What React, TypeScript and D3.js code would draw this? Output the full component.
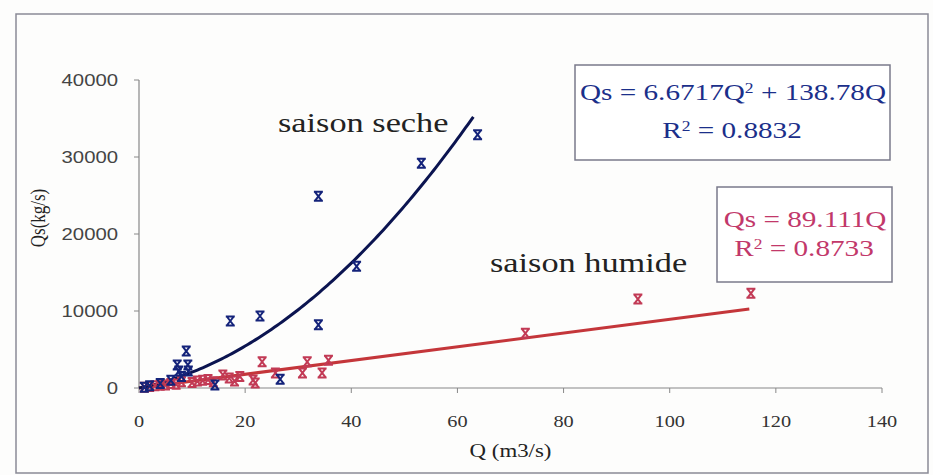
import React from "react";
import * as d3 from "d3";

const W = 933;
const H = 475;

// saison seche (dry season) observations [Q m3/s, Qs kg/s]
const secheQ = [63.8, 53.2, 33.8, 41, 22.8, 17.2, 33.8, 8.9, 7.2, 9.2, 7.5, 9.3, 8, 6, 4, 2, 1, 26.6, 14.3];
const secheQs = [32900, 29200, 24900, 15800, 9350, 8700, 8200, 4800, 3000, 3000, 2200, 2200, 1500, 1000, 600, 300, 100, 1150, 400];

// saison humide (wet season) observations
const humideQ = [115.3, 94, 72.8, 23.2, 31.7, 35.7, 30.8, 34.5, 25.7, 21.5, 15.8, 21.9, 1, 2, 3, 4, 5, 6, 7, 8, 10, 11, 12, 13, 14, 17, 18, 19];
const humideQs = [12300, 11550, 7100, 3400, 3400, 3600, 1950, 1950, 1950, 1050, 1700, 650, 100, 200, 300, 350, 400, 600, 500, 800, 700, 900, 1000, 1100, 800, 1300, 900, 1500];

// regression coefficients as shown in chart
const secheA = 6.6717;
const secheB = 138.78;
const secheMaxQ = 63;
const humideB = 89.111;
const humideMaxQ = 115;

const xTicks = [0, 20, 40, 60, 80, 100, 120, 140];
const yTicks = [0, 10000, 20000, 30000, 40000];

const BLUE = "#1b2f8a";
const BLUE_MARK = "#14237a";
const BLUE_LINE = "#0b1450";
const RED = "#c2386a";
const RED_MARK = "#c23a55";
const RED_LINE = "#c4363a";

const SERIF = "'Liberation Serif', 'Times New Roman', 'DejaVu Serif', serif";
const SANS = "'Liberation Sans', Arial, 'DejaVu Sans', sans-serif";
const SX = 1.27;

function T({
  x,
  y,
  size,
  fill = "#222",
  family = SERIF,
  anchor = "start",
  sx = SX,
  children,
}: {
  x: number;
  y: number;
  size: number;
  fill?: string;
  family?: string;
  anchor?: string;
  sx?: number;
  children: React.ReactNode;
}) {
  return (
    <text
      transform={`translate(${x},${y}) scale(${sx},1)`}
      textAnchor={anchor as any}
      style={{ fontFamily: family, fontSize: size }}
      fill={fill}
    >
      {children}
    </text>
  );
}

function Marker({ x, y, color }: { x: number; y: number; color: string }) {
  const s = 4.5;
  const d = `M${x - s},${y - s}L${x + s},${y - s}M${x - s},${y + s}L${x + s},${y + s}M${x - s + 1},${y - s}L${x + s - 1},${y + s}M${x + s - 1},${y - s}L${x - s + 1},${y + s}`;
  return <path d={d} stroke={color} strokeWidth={2} fill="none" />;
}

function Sup({ children }: { children: React.ReactNode }) {
  return (
    <tspan baselineShift="super" style={{ fontSize: "60%" }}>
      {children}
    </tspan>
  );
}

export default function App() {
  const x = d3.scaleLinear().domain([0, 140]).range([139, 882]);
  const y = d3.scaleLinear().domain([0, 40000]).range([388, 80]);

  const secheCurveQ = d3.range(0, secheMaxQ + 0.01, 0.5);
  const humideLineQ = [0, humideMaxQ];
  const line = d3
    .line<[number, number]>()
    .x((d) => x(d[0]))
    .y((d) => y(d[1]));
  const secheCurve = line(secheCurveQ.map((q) => [q, secheA * q * q + secheB * q] as [number, number]));
  const humideLine = line(humideLineQ.map((q) => [q, humideB * q] as [number, number]));

  return (
    <svg width={W} height={H} style={{ position: "absolute", left: 0, top: 0, background: "#fff" }}>
      <rect x={0} y={0} width={W} height={H} fill="#fdfdfc" />
      <rect x={16} y={14} width={912} height={459} fill="none" stroke="#8a8a96" strokeWidth={1.5} />

      {/* axes */}
      <line x1={x(0)} x2={x(140)} y1={y(0)} y2={y(0)} stroke="#888" strokeWidth={1.2} />
      <line x1={x(0)} x2={x(0)} y1={y(0)} y2={y(40000)} stroke="#888" strokeWidth={1.2} />
      {xTicks.map((t) => (
        <g key={"x" + t}>
          <line x1={x(t)} x2={x(t)} y1={y(0)} y2={y(0) + 5} stroke="#888" />
          <T x={x(t)} y={y(0) + 39} anchor="middle" size={16} fill="#333">
            {t}
          </T>
        </g>
      ))}
      {yTicks.map((t) => (
        <g key={"y" + t}>
          <line x1={x(0) - 5} x2={x(0)} y1={y(t)} y2={y(t)} stroke="#888" />
          <T x={x(0) - 21} y={y(t) + 6} anchor="end" size={16} fill="#444" family={SANS}>
            {t}
          </T>
        </g>
      ))}
      <T x={(x(0) + x(140)) / 2} y={457} anchor="middle" size={18} fill="#222">
        Q (m3/s)
      </T>
      <text
        transform={`translate(45,218) rotate(-90) scale(1,1.2)`}
        textAnchor="middle"
        style={{ fontFamily: SERIF, fontSize: 17 }}
        fill="#222"
      >
        Qs(kg/s)
      </text>

      {/* trend lines */}
      <path d={humideLine || ""} stroke={RED_LINE} strokeWidth={3} fill="none" />
      <path d={secheCurve || ""} stroke={BLUE_LINE} strokeWidth={3} fill="none" />

      {/* points */}
      {humideQ.map((q, i) => (
        <Marker key={"h" + i} x={x(q)} y={y(humideQs[i])} color={RED_MARK} />
      ))}
      {secheQ.map((q, i) => (
        <Marker key={"s" + i} x={x(q)} y={y(secheQs[i])} color={BLUE_MARK} />
      ))}

      {/* labels */}
      <T x={278} y={132} size={27} fill="#222">
        saison seche
      </T>
      <T x={490} y={272} size={27} fill="#222">
        saison humide
      </T>

      {/* equation boxes */}
      <rect x={575} y={65} width={315} height={95} fill="#fff" stroke="#7a7a8a" strokeWidth={1.5} />
      <T x={733} y={100} anchor="middle" size={23} fill={BLUE}>
        Qs = 6.6717Q<Sup>2</Sup> + 138.78Q
      </T>
      <T x={732} y={138} anchor="middle" size={23} fill={BLUE}>
        R<Sup>2</Sup> = 0.8832
      </T>

      <rect x={717} y={187} width={175} height={95} fill="#fff" stroke="#7a7a8a" strokeWidth={1.5} />
      <T x={805} y={227} anchor="middle" size={23} fill={RED}>
        Qs = 89.111Q
      </T>
      <T x={804} y={256} anchor="middle" size={23} fill={RED}>
        R<Sup>2</Sup> = 0.8733
      </T>
    </svg>
  );
}
